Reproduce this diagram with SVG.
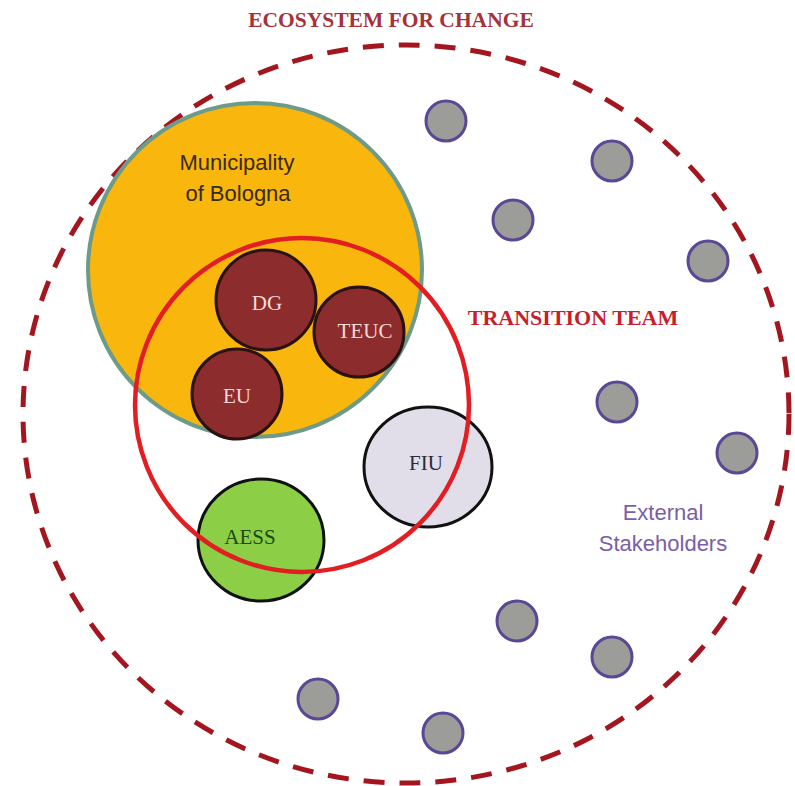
<svg xmlns="http://www.w3.org/2000/svg" width="795" height="786" viewBox="0 0 795 786">
<style>
.stake{fill:#9c9c98;stroke:#5a4896;stroke-width:3}
.maroon{fill:#8c2c2c;stroke:#2a1212;stroke-width:3}
.lbl{font-family:"Liberation Serif","DejaVu Serif",serif;font-size:21px;text-anchor:middle}
.sans{font-family:"Liberation Sans",Arial,sans-serif;text-anchor:middle}
.title{font-family:"Liberation Serif","DejaVu Serif",serif;font-weight:bold;text-anchor:middle}
</style>
<rect width="795" height="786" fill="#ffffff"/>
<g id="ecosystem">
<ellipse cx="406" cy="414" rx="383" ry="369" fill="none" stroke="#a3161f" stroke-width="5" stroke-dasharray="21 15"/>
<text class="title" x="391" y="27" font-size="21.5" fill="#a5323a">ECOSYSTEM FOR CHANGE</text>
</g>
<g id="stakeholders">
<circle class="stake" cx="446" cy="121" r="20"/>
<circle class="stake" cx="612" cy="161" r="20"/>
<circle class="stake" cx="513" cy="220" r="20"/>
<circle class="stake" cx="708" cy="261" r="20"/>
<circle class="stake" cx="617" cy="402" r="20"/>
<circle class="stake" cx="737" cy="453" r="20"/>
<circle class="stake" cx="517" cy="621" r="20"/>
<circle class="stake" cx="612" cy="657" r="20"/>
<circle class="stake" cx="318" cy="699" r="20"/>
<circle class="stake" cx="443" cy="733" r="20"/>
<text class="sans" x="663" y="520" font-size="22" fill="#7a5ea8">External</text>
<text class="sans" x="663" y="551" font-size="22" fill="#7a5ea8">Stakeholders</text>
</g>
<g id="municipality">
<circle cx="255" cy="270" r="167" fill="#f9b60c" stroke="#6e9a8a" stroke-width="4"/>
<text class="sans" x="237" y="170" font-size="22" fill="#3a2a12">Municipality</text>
<text class="sans" x="238" y="201" font-size="22" fill="#3a2a12">of Bologna</text>
</g>
<g id="DG">
<circle class="maroon" cx="266" cy="300" r="50"/>
<text class="lbl" x="267" y="310" fill="#f4dada">DG</text>
</g>
<g id="TEUC">
<circle class="maroon" cx="359" cy="332" r="45"/>
<text class="lbl" x="365" y="338" fill="#f4dada">TEUC</text>
</g>
<g id="EU">
<circle class="maroon" cx="237" cy="394" r="45"/>
<text class="lbl" x="237" y="403" fill="#f4dada">EU</text>
</g>
<g id="FIU">
<ellipse cx="428" cy="467" rx="64" ry="60" fill="#e2dee9" stroke="#111111" stroke-width="3"/>
<text class="lbl" x="426" y="470" fill="#2a2a3a">FIU</text>
</g>
<g id="AESS">
<ellipse cx="261" cy="540" rx="63" ry="61" fill="#8ccf46" stroke="#111111" stroke-width="3"/>
<text class="lbl" x="250" y="544" fill="#1e4a12">AESS</text>
</g>
<g id="transition-team">
<circle cx="302" cy="405" r="167" fill="none" stroke="#e21e22" stroke-width="4.5"/>
<text class="title" x="573" y="325" font-size="22" fill="#c8202a">TRANSITION TEAM</text>
</g>
<g id="connectors"></g>
</svg>
